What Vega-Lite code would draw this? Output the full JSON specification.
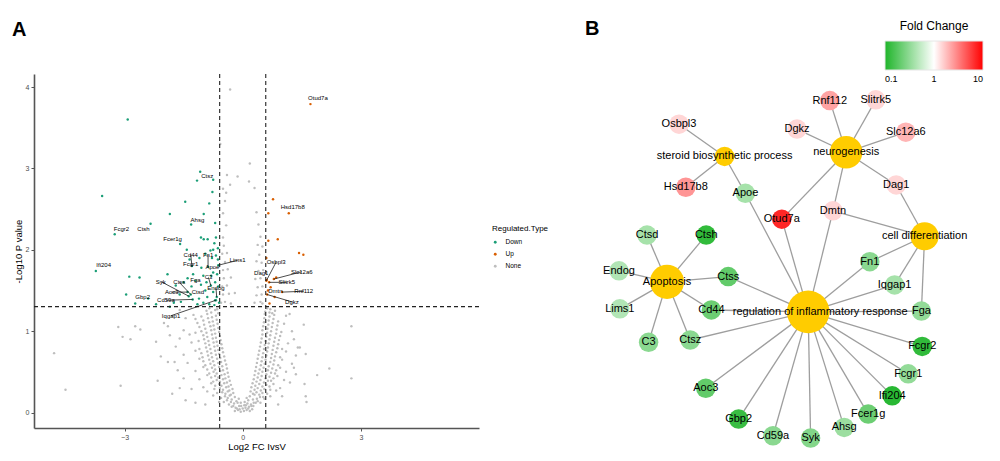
{
  "$schema": "https://vega.github.io/schema/vega-lite/v6.json",
  "padding": {"left": 12, "top": 19, "right": 5, "bottom": 5},
  "config": {"view": {"stroke": null}, "font": "Liberation Sans", "axis": {"grid": false}},
  "spacing": 36,
  "resolve": {"scale": {"color": "independent", "size": "independent", "x": "independent", "y": "independent"}},
  "datasets": {
    "v": [
      {"lfc":-0.2,"lp":0.02,"type":"None"},{"lfc":-0.12,"lp":0.03,"type":"None"},{"lfc":-0.05,"lp":0.01,"type":"None"},{"lfc":0.03,"lp":0.02,"type":"None"},{"lfc":0.1,"lp":0.03,"type":"None"},{"lfc":0.18,"lp":0.02,"type":"None"},{"lfc":0.24,"lp":0.04,"type":"None"},
      {"lfc":-0.15,"lp":0.05,"type":"None"},{"lfc":-0.08,"lp":0.04,"type":"None"},{"lfc":0.0,"lp":0.05,"type":"None"},{"lfc":0.07,"lp":0.06,"type":"None"},{"lfc":0.14,"lp":0.05,"type":"None"},
      {"lfc":-0.28,"lp":0.07,"type":"None"},{"lfc":-0.18,"lp":0.06,"type":"None"},{"lfc":-0.09,"lp":0.08,"type":"None"},{"lfc":0.08,"lp":0.09,"type":"None"},{"lfc":0.16,"lp":0.07,"type":"None"},{"lfc":0.27,"lp":0.08,"type":"None"},
      {"lfc":-0.35,"lp":0.1,"type":"None"},{"lfc":-0.22,"lp":0.11,"type":"None"},{"lfc":-0.13,"lp":0.12,"type":"None"},{"lfc":0.12,"lp":0.11,"type":"None"},{"lfc":0.21,"lp":0.1,"type":"None"},{"lfc":0.33,"lp":0.12,"type":"None"},
      {"lfc":-0.4,"lp":0.15,"type":"None"},{"lfc":-0.28,"lp":0.16,"type":"None"},{"lfc":-0.16,"lp":0.14,"type":"None"},{"lfc":0.14,"lp":0.15,"type":"None"},{"lfc":0.26,"lp":0.16,"type":"None"},{"lfc":0.38,"lp":0.14,"type":"None"},{"lfc":-0.6,"lp":0.13,"type":"None"},{"lfc":0.55,"lp":0.17,"type":"None"},
      {"lfc":-0.45,"lp":0.2,"type":"None"},{"lfc":-0.33,"lp":0.21,"type":"None"},{"lfc":-0.2,"lp":0.19,"type":"None"},{"lfc":0.18,"lp":0.2,"type":"None"},{"lfc":0.3,"lp":0.22,"type":"None"},{"lfc":0.44,"lp":0.19,"type":"None"},{"lfc":-0.75,"lp":0.21,"type":"None"},{"lfc":0.7,"lp":0.2,"type":"None"},
      {"lfc":-0.52,"lp":0.25,"type":"None"},{"lfc":-0.38,"lp":0.26,"type":"None"},{"lfc":-0.24,"lp":0.24,"type":"None"},{"lfc":0.2,"lp":0.26,"type":"None"},{"lfc":0.35,"lp":0.25,"type":"None"},{"lfc":0.5,"lp":0.24,"type":"None"},{"lfc":-0.9,"lp":0.26,"type":"None"},{"lfc":0.85,"lp":0.27,"type":"None"},
      {"lfc":-0.58,"lp":0.3,"type":"None"},{"lfc":-0.42,"lp":0.31,"type":"None"},{"lfc":-0.26,"lp":0.29,"type":"None"},{"lfc":0.22,"lp":0.31,"type":"None"},{"lfc":0.38,"lp":0.3,"type":"None"},{"lfc":0.55,"lp":0.29,"type":"None"},{"lfc":-1.0,"lp":0.31,"type":"None"},{"lfc":0.95,"lp":0.3,"type":"None"},{"lfc":-1.3,"lp":0.29,"type":"None"},
      {"lfc":-0.6,"lp":0.35,"type":"None"},{"lfc":-0.47,"lp":0.36,"type":"None"},{"lfc":-0.3,"lp":0.34,"type":"None"},{"lfc":0.25,"lp":0.36,"type":"None"},{"lfc":0.42,"lp":0.35,"type":"None"},{"lfc":0.6,"lp":0.34,"type":"None"},{"lfc":-0.8,"lp":0.36,"type":"None"},{"lfc":0.78,"lp":0.35,"type":"None"},{"lfc":1.2,"lp":0.37,"type":"None"},
      {"lfc":-0.66,"lp":0.4,"type":"None"},{"lfc":-0.5,"lp":0.41,"type":"None"},{"lfc":-0.33,"lp":0.39,"type":"None"},{"lfc":0.28,"lp":0.41,"type":"None"},{"lfc":0.45,"lp":0.4,"type":"None"},{"lfc":0.64,"lp":0.39,"type":"None"},{"lfc":-1.1,"lp":0.41,"type":"None"},{"lfc":1.05,"lp":0.4,"type":"None"},{"lfc":-1.5,"lp":0.42,"type":"None"},
      {"lfc":-0.7,"lp":0.45,"type":"None"},{"lfc":-0.54,"lp":0.46,"type":"None"},{"lfc":-0.36,"lp":0.44,"type":"None"},{"lfc":0.3,"lp":0.46,"type":"None"},{"lfc":0.48,"lp":0.45,"type":"None"},{"lfc":0.68,"lp":0.44,"type":"None"},{"lfc":-0.9,"lp":0.46,"type":"None"},{"lfc":0.88,"lp":0.45,"type":"None"},{"lfc":1.35,"lp":0.47,"type":"None"},
      {"lfc":-0.74,"lp":0.5,"type":"None"},{"lfc":-0.57,"lp":0.51,"type":"None"},{"lfc":-0.38,"lp":0.49,"type":"None"},{"lfc":0.32,"lp":0.51,"type":"None"},{"lfc":0.5,"lp":0.5,"type":"None"},{"lfc":0.72,"lp":0.49,"type":"None"},{"lfc":-1.2,"lp":0.51,"type":"None"},{"lfc":1.1,"lp":0.5,"type":"None"},{"lfc":-1.65,"lp":0.52,"type":"None"},
      {"lfc":-0.78,"lp":0.55,"type":"None"},{"lfc":-0.6,"lp":0.56,"type":"None"},{"lfc":-0.4,"lp":0.54,"type":"None"},{"lfc":0.34,"lp":0.56,"type":"None"},{"lfc":0.53,"lp":0.55,"type":"None"},{"lfc":0.75,"lp":0.54,"type":"None"},{"lfc":-1.0,"lp":0.56,"type":"None"},{"lfc":0.95,"lp":0.55,"type":"None"},
      {"lfc":-0.82,"lp":0.6,"type":"None"},{"lfc":-0.62,"lp":0.61,"type":"None"},{"lfc":-0.42,"lp":0.59,"type":"None"},{"lfc":0.36,"lp":0.61,"type":"None"},{"lfc":0.56,"lp":0.6,"type":"None"},{"lfc":0.78,"lp":0.59,"type":"None"},{"lfc":-1.4,"lp":0.61,"type":"None"},{"lfc":1.25,"lp":0.6,"type":"None"},{"lfc":-1.9,"lp":0.62,"type":"None"},
      {"lfc":-0.85,"lp":0.65,"type":"None"},{"lfc":-0.65,"lp":0.66,"type":"None"},{"lfc":-0.45,"lp":0.64,"type":"None"},{"lfc":0.38,"lp":0.66,"type":"None"},{"lfc":0.58,"lp":0.65,"type":"None"},{"lfc":0.8,"lp":0.64,"type":"None"},{"lfc":-1.1,"lp":0.66,"type":"None"},{"lfc":1.0,"lp":0.65,"type":"None"},
      {"lfc":-0.88,"lp":0.7,"type":"None"},{"lfc":-0.68,"lp":0.71,"type":"None"},{"lfc":-0.47,"lp":0.69,"type":"None"},{"lfc":0.4,"lp":0.71,"type":"None"},{"lfc":0.6,"lp":0.7,"type":"None"},{"lfc":0.82,"lp":0.69,"type":"None"},{"lfc":-1.5,"lp":0.71,"type":"None"},{"lfc":1.35,"lp":0.7,"type":"None"},{"lfc":1.6,"lp":0.72,"type":"None"},
      {"lfc":-0.9,"lp":0.75,"type":"None"},{"lfc":-0.7,"lp":0.76,"type":"None"},{"lfc":-0.5,"lp":0.74,"type":"None"},{"lfc":0.42,"lp":0.76,"type":"None"},{"lfc":0.62,"lp":0.75,"type":"None"},{"lfc":0.85,"lp":0.74,"type":"None"},{"lfc":-1.2,"lp":0.76,"type":"None"},{"lfc":1.1,"lp":0.75,"type":"None"},
      {"lfc":-0.93,"lp":0.8,"type":"None"},{"lfc":-0.72,"lp":0.81,"type":"None"},{"lfc":-0.52,"lp":0.79,"type":"None"},{"lfc":0.44,"lp":0.81,"type":"None"},{"lfc":0.64,"lp":0.8,"type":"None"},{"lfc":0.88,"lp":0.79,"type":"None"},{"lfc":-1.7,"lp":0.81,"type":"None"},{"lfc":1.4,"lp":0.8,"type":"None"},
      {"lfc":-0.95,"lp":0.85,"type":"None"},{"lfc":-0.74,"lp":0.86,"type":"None"},{"lfc":-0.54,"lp":0.84,"type":"None"},{"lfc":0.46,"lp":0.86,"type":"None"},{"lfc":0.66,"lp":0.85,"type":"None"},{"lfc":0.9,"lp":0.84,"type":"None"},{"lfc":-1.3,"lp":0.86,"type":"None"},{"lfc":1.15,"lp":0.85,"type":"None"},
      {"lfc":-0.98,"lp":0.9,"type":"None"},{"lfc":-0.76,"lp":0.91,"type":"None"},{"lfc":-0.56,"lp":0.89,"type":"None"},{"lfc":0.48,"lp":0.91,"type":"None"},{"lfc":0.68,"lp":0.9,"type":"None"},{"lfc":0.92,"lp":0.89,"type":"None"},{"lfc":-1.6,"lp":0.91,"type":"None"},{"lfc":1.3,"lp":0.9,"type":"None"},
      {"lfc":-1.0,"lp":0.95,"type":"None"},{"lfc":-0.78,"lp":0.96,"type":"None"},{"lfc":-0.58,"lp":0.94,"type":"None"},{"lfc":0.5,"lp":0.96,"type":"None"},{"lfc":0.7,"lp":0.95,"type":"None"},{"lfc":0.95,"lp":0.94,"type":"None"},{"lfc":-1.35,"lp":0.96,"type":"None"},
      {"lfc":-1.05,"lp":1.0,"type":"None"},{"lfc":-0.8,"lp":1.01,"type":"None"},{"lfc":-0.6,"lp":0.99,"type":"None"},{"lfc":0.5,"lp":1.01,"type":"None"},{"lfc":0.72,"lp":1.0,"type":"None"},{"lfc":0.98,"lp":0.99,"type":"None"},{"lfc":-1.5,"lp":1.01,"type":"None"},{"lfc":1.25,"lp":1.0,"type":"None"},
      {"lfc":-1.1,"lp":1.05,"type":"None"},{"lfc":-0.82,"lp":1.06,"type":"None"},{"lfc":-0.62,"lp":1.04,"type":"None"},{"lfc":0.52,"lp":1.06,"type":"None"},{"lfc":0.74,"lp":1.05,"type":"None"},{"lfc":-1.9,"lp":1.06,"type":"None"},
      {"lfc":-1.15,"lp":1.1,"type":"None"},{"lfc":-0.85,"lp":1.11,"type":"None"},{"lfc":-0.64,"lp":1.09,"type":"None"},{"lfc":0.54,"lp":1.11,"type":"None"},{"lfc":0.76,"lp":1.1,"type":"None"},{"lfc":1.05,"lp":1.09,"type":"None"},
      {"lfc":-1.2,"lp":1.15,"type":"None"},{"lfc":-0.88,"lp":1.16,"type":"None"},{"lfc":-0.66,"lp":1.14,"type":"None"},{"lfc":0.55,"lp":1.16,"type":"None"},{"lfc":0.78,"lp":1.15,"type":"None"},{"lfc":-1.45,"lp":1.16,"type":"None"},
      {"lfc":-1.25,"lp":1.2,"type":"None"},{"lfc":-0.9,"lp":1.21,"type":"None"},{"lfc":-0.68,"lp":1.19,"type":"None"},{"lfc":0.56,"lp":1.21,"type":"None"},{"lfc":0.8,"lp":1.2,"type":"None"},{"lfc":1.1,"lp":1.19,"type":"None"},
      {"lfc":-0.92,"lp":1.25,"type":"None"},{"lfc":-0.7,"lp":1.26,"type":"None"},{"lfc":0.57,"lp":1.24,"type":"None"},{"lfc":0.82,"lp":1.25,"type":"None"},{"lfc":-1.6,"lp":1.26,"type":"None"},
      {"lfc":-0.24,"lp":0.08,"type":"None"},{"lfc":-0.04,"lp":0.08,"type":"None"},{"lfc":0.04,"lp":0.09,"type":"None"},{"lfc":0.22,"lp":0.08,"type":"None"},
      {"lfc":-0.3,"lp":0.13,"type":"None"},{"lfc":-0.05,"lp":0.12,"type":"None"},{"lfc":0.05,"lp":0.13,"type":"None"},{"lfc":0.28,"lp":0.12,"type":"None"},{"lfc":-0.48,"lp":0.13,"type":"None"},{"lfc":0.45,"lp":0.12,"type":"None"},
      {"lfc":-0.38,"lp":0.18,"type":"None"},{"lfc":-0.1,"lp":0.17,"type":"None"},{"lfc":0.1,"lp":0.18,"type":"None"},{"lfc":0.36,"lp":0.17,"type":"None"},{"lfc":-0.55,"lp":0.18,"type":"None"},{"lfc":0.52,"lp":0.19,"type":"None"},
      {"lfc":-0.44,"lp":0.23,"type":"None"},{"lfc":-0.3,"lp":0.22,"type":"None"},{"lfc":0.26,"lp":0.23,"type":"None"},{"lfc":0.42,"lp":0.22,"type":"None"},{"lfc":-0.65,"lp":0.24,"type":"None"},{"lfc":0.62,"lp":0.23,"type":"None"},
      {"lfc":-0.5,"lp":0.28,"type":"None"},{"lfc":-0.34,"lp":0.27,"type":"None"},{"lfc":0.3,"lp":0.28,"type":"None"},{"lfc":0.46,"lp":0.27,"type":"None"},{"lfc":-0.72,"lp":0.29,"type":"None"},{"lfc":0.7,"lp":0.28,"type":"None"},
      {"lfc":-0.54,"lp":0.33,"type":"None"},{"lfc":-0.36,"lp":0.32,"type":"None"},{"lfc":0.32,"lp":0.33,"type":"None"},{"lfc":0.5,"lp":0.32,"type":"None"},{"lfc":-0.7,"lp":0.33,"type":"None"},{"lfc":0.68,"lp":0.32,"type":"None"},
      {"lfc":-0.58,"lp":0.38,"type":"None"},{"lfc":-0.4,"lp":0.37,"type":"None"},{"lfc":0.35,"lp":0.38,"type":"None"},{"lfc":0.54,"lp":0.37,"type":"None"},{"lfc":-0.75,"lp":0.38,"type":"None"},{"lfc":0.72,"lp":0.39,"type":"None"},
      {"lfc":-0.62,"lp":0.43,"type":"None"},{"lfc":-0.44,"lp":0.42,"type":"None"},{"lfc":0.38,"lp":0.43,"type":"None"},{"lfc":0.58,"lp":0.42,"type":"None"},{"lfc":-0.8,"lp":0.43,"type":"None"},{"lfc":0.78,"lp":0.42,"type":"None"},
      {"lfc":-0.66,"lp":0.48,"type":"None"},{"lfc":-0.46,"lp":0.47,"type":"None"},{"lfc":0.4,"lp":0.48,"type":"None"},{"lfc":0.6,"lp":0.47,"type":"None"},{"lfc":-0.85,"lp":0.48,"type":"None"},{"lfc":0.82,"lp":0.48,"type":"None"},
      {"lfc":-0.7,"lp":0.53,"type":"None"},{"lfc":-0.5,"lp":0.52,"type":"None"},{"lfc":0.43,"lp":0.53,"type":"None"},{"lfc":0.64,"lp":0.52,"type":"None"},{"lfc":-0.9,"lp":0.53,"type":"None"},{"lfc":0.85,"lp":0.52,"type":"None"},
      {"lfc":-0.72,"lp":0.58,"type":"None"},{"lfc":-0.52,"lp":0.57,"type":"None"},{"lfc":0.46,"lp":0.58,"type":"None"},{"lfc":0.66,"lp":0.57,"type":"None"},{"lfc":-0.95,"lp":0.58,"type":"None"},{"lfc":0.9,"lp":0.58,"type":"None"},
      {"lfc":-0.75,"lp":0.63,"type":"None"},{"lfc":-0.55,"lp":0.62,"type":"None"},{"lfc":0.48,"lp":0.63,"type":"None"},{"lfc":0.7,"lp":0.62,"type":"None"},{"lfc":-1.0,"lp":0.63,"type":"None"},
      {"lfc":-0.78,"lp":0.68,"type":"None"},{"lfc":-0.57,"lp":0.67,"type":"None"},{"lfc":0.5,"lp":0.68,"type":"None"},{"lfc":0.72,"lp":0.67,"type":"None"},{"lfc":-1.02,"lp":0.68,"type":"None"},{"lfc":0.95,"lp":0.68,"type":"None"},
      {"lfc":-0.8,"lp":0.73,"type":"None"},{"lfc":-0.6,"lp":0.72,"type":"None"},{"lfc":0.52,"lp":0.73,"type":"None"},{"lfc":0.74,"lp":0.72,"type":"None"},{"lfc":-1.05,"lp":0.73,"type":"None"},
      {"lfc":-0.82,"lp":0.78,"type":"None"},{"lfc":-0.62,"lp":0.77,"type":"None"},{"lfc":0.54,"lp":0.78,"type":"None"},{"lfc":0.76,"lp":0.77,"type":"None"},{"lfc":-1.1,"lp":0.78,"type":"None"},{"lfc":1.0,"lp":0.78,"type":"None"},
      {"lfc":-0.85,"lp":0.83,"type":"None"},{"lfc":-0.64,"lp":0.82,"type":"None"},{"lfc":0.56,"lp":0.83,"type":"None"},{"lfc":0.78,"lp":0.82,"type":"None"},
      {"lfc":-0.87,"lp":0.88,"type":"None"},{"lfc":-0.66,"lp":0.87,"type":"None"},{"lfc":0.58,"lp":0.88,"type":"None"},{"lfc":0.8,"lp":0.87,"type":"None"},{"lfc":-1.12,"lp":0.88,"type":"None"},
      {"lfc":-0.9,"lp":0.93,"type":"None"},{"lfc":-0.68,"lp":0.92,"type":"None"},{"lfc":0.6,"lp":0.93,"type":"None"},{"lfc":0.82,"lp":0.92,"type":"None"},
      {"lfc":-0.92,"lp":0.98,"type":"None"},{"lfc":-0.7,"lp":0.97,"type":"None"},{"lfc":0.62,"lp":0.98,"type":"None"},{"lfc":0.85,"lp":0.97,"type":"None"},{"lfc":-1.2,"lp":0.98,"type":"None"},
      {"lfc":-0.95,"lp":1.03,"type":"None"},{"lfc":-0.72,"lp":1.02,"type":"None"},{"lfc":0.63,"lp":1.03,"type":"None"},{"lfc":0.86,"lp":1.02,"type":"None"},
      {"lfc":-0.98,"lp":1.08,"type":"None"},{"lfc":-0.74,"lp":1.07,"type":"None"},{"lfc":0.65,"lp":1.08,"type":"None"},{"lfc":0.88,"lp":1.07,"type":"None"},
      {"lfc":-1.0,"lp":1.13,"type":"None"},{"lfc":-0.76,"lp":1.12,"type":"None"},{"lfc":0.66,"lp":1.13,"type":"None"},{"lfc":0.9,"lp":1.12,"type":"None"},
      {"lfc":-1.05,"lp":1.18,"type":"None"},{"lfc":-0.78,"lp":1.17,"type":"None"},{"lfc":0.68,"lp":1.18,"type":"None"},
      {"lfc":-0.8,"lp":1.23,"type":"None"},{"lfc":-0.62,"lp":1.22,"type":"None"},{"lfc":0.68,"lp":1.23,"type":"None"},{"lfc":0.75,"lp":1.22,"type":"None"},
      {"lfc":-0.85,"lp":1.28,"type":"None"},{"lfc":-0.65,"lp":1.27,"type":"None"},{"lfc":0.62,"lp":1.28,"type":"None"},{"lfc":0.7,"lp":1.27,"type":"None"},
      {"lfc":-0.55,"lp":1.35,"type":"None"},{"lfc":-0.45,"lp":1.36,"type":"None"},{"lfc":-0.3,"lp":1.34,"type":"None"},{"lfc":0.3,"lp":1.35,"type":"None"},{"lfc":0.45,"lp":1.36,"type":"None"},{"lfc":0.5,"lp":1.34,"type":"None"},
      {"lfc":-0.5,"lp":1.45,"type":"None"},{"lfc":-0.35,"lp":1.46,"type":"None"},{"lfc":0.35,"lp":1.44,"type":"None"},{"lfc":0.48,"lp":1.45,"type":"None"},{"lfc":-0.2,"lp":1.47,"type":"None"},
      {"lfc":-0.52,"lp":1.55,"type":"None"},{"lfc":-0.4,"lp":1.56,"type":"None"},{"lfc":0.38,"lp":1.54,"type":"None"},{"lfc":0.5,"lp":1.55,"type":"None"},
      {"lfc":-0.48,"lp":1.65,"type":"None"},{"lfc":-0.3,"lp":1.66,"type":"None"},{"lfc":0.32,"lp":1.64,"type":"None"},{"lfc":0.45,"lp":1.65,"type":"None"},
      {"lfc":-0.5,"lp":1.75,"type":"None"},{"lfc":-0.38,"lp":1.76,"type":"None"},{"lfc":0.4,"lp":1.74,"type":"None"},{"lfc":0.52,"lp":1.75,"type":"None"},
      {"lfc":-0.45,"lp":1.85,"type":"None"},{"lfc":0.35,"lp":1.86,"type":"None"},{"lfc":0.48,"lp":1.84,"type":"None"},
      {"lfc":-0.52,"lp":1.95,"type":"None"},{"lfc":-0.4,"lp":1.96,"type":"None"},{"lfc":0.42,"lp":1.94,"type":"None"},
      {"lfc":-0.48,"lp":2.05,"type":"None"},{"lfc":0.38,"lp":2.06,"type":"None"},{"lfc":0.5,"lp":2.04,"type":"None"},
      {"lfc":-0.5,"lp":2.15,"type":"None"},{"lfc":0.45,"lp":2.16,"type":"None"},
      {"lfc":-0.42,"lp":2.3,"type":"None"},{"lfc":0.4,"lp":2.31,"type":"None"},
      {"lfc":-0.5,"lp":2.45,"type":"None"},{"lfc":0.35,"lp":2.46,"type":"None"},
      {"lfc":-0.45,"lp":2.6,"type":"None"},{"lfc":-0.42,"lp":2.7,"type":"None"},{"lfc":-0.5,"lp":2.75,"type":"None"},{"lfc":0.3,"lp":2.76,"type":"None"},{"lfc":-0.32,"lp":2.8,"type":"None"},{"lfc":0.16,"lp":2.84,"type":"None"},{"lfc":-0.13,"lp":2.9,"type":"None"},{"lfc":-0.4,"lp":2.92,"type":"None"},{"lfc":0.18,"lp":3.06,"type":"None"},{"lfc":-0.57,"lp":3.3,"type":"None"},{"lfc":-0.32,"lp":3.97,"type":"None"},
      {"lfc":-4.79,"lp":0.73,"type":"None"},{"lfc":-4.5,"lp":0.28,"type":"None"},{"lfc":-3.16,"lp":1.05,"type":"None"},{"lfc":-3.05,"lp":0.93,"type":"None"},{"lfc":-3.1,"lp":0.33,"type":"None"},{"lfc":-2.85,"lp":0.9,"type":"None"},{"lfc":-2.73,"lp":1.06,"type":"None"},{"lfc":-2.6,"lp":1.02,"type":"None"},{"lfc":2.76,"lp":1.06,"type":"None"},{"lfc":2.76,"lp":0.42,"type":"None"},{"lfc":2.2,"lp":0.54,"type":"None"},{"lfc":1.89,"lp":0.46,"type":"None"},{"lfc":1.55,"lp":1.08,"type":"None"},{"lfc":1.57,"lp":0.35,"type":"None"},{"lfc":1.6,"lp":0.2,"type":"None"},{"lfc":1.62,"lp":0.13,"type":"None"},{"lfc":1.19,"lp":1.21,"type":"None"},{"lfc":-2.16,"lp":0.39,"type":"None"},{"lfc":-1.73,"lp":0.62,"type":"None"},{"lfc":-1.79,"lp":0.23,"type":"None"},{"lfc":-2.2,"lp":0.87,"type":"None"},{"lfc":-2.08,"lp":0.69,"type":"None"},{"lfc":-2.0,"lp":1.1,"type":"None"},{"lfc":-1.85,"lp":0.95,"type":"None"},{"lfc":-1.6,"lp":0.3,"type":"None"},{"lfc":-1.45,"lp":0.15,"type":"None"},{"lfc":1.3,"lp":0.55,"type":"None"},{"lfc":1.45,"lp":0.8,"type":"None"},{"lfc":1.0,"lp":0.2,"type":"None"},{"lfc":-1.2,"lp":0.12,"type":"None"},{"lfc":0.9,"lp":0.1,"type":"None"},{"lfc":-0.95,"lp":0.1,"type":"None"},
      {"lfc":0.77,"lp":2.62,"type":"Up"},{"lfc":0.65,"lp":2.45,"type":"Up"},{"lfc":0.65,"lp":2.11,"type":"Up"},{"lfc":0.89,"lp":2.13,"type":"Up"},{"lfc":1.43,"lp":1.96,"type":"Up"},{"lfc":1.54,"lp":1.94,"type":"Up"},{"lfc":0.6,"lp":1.9,"type":"Up"},{"lfc":0.71,"lp":1.54,"type":"Up"},{"lfc":0.81,"lp":1.42,"type":"Up"},{"lfc":0.68,"lp":1.34,"type":"Up"},{"lfc":0.85,"lp":1.66,"type":"Up"},
      {"lfc":-2.92,"lp":3.6,"type":"Down"},{"lfc":-3.57,"lp":2.66,"type":"Down"},{"lfc":-1.16,"lp":2.85,"type":"Down"},{"lfc":-0.75,"lp":2.86,"type":"Down"},{"lfc":-0.77,"lp":2.71,"type":"Down"},{"lfc":-1.46,"lp":2.59,"type":"Down"},{"lfc":-0.85,"lp":2.57,"type":"Down"},{"lfc":-1.85,"lp":2.44,"type":"Down"},{"lfc":-0.99,"lp":2.44,"type":"Down"},{"lfc":-0.7,"lp":2.33,"type":"Down"},{"lfc":-1.06,"lp":2.15,"type":"Down"},{"lfc":-0.99,"lp":2.13,"type":"Down"},{"lfc":-0.89,"lp":2.13,"type":"Down"},{"lfc":-0.68,"lp":2.15,"type":"Down"},{"lfc":-0.72,"lp":2.08,"type":"Down"},{"lfc":-1.42,"lp":2.0,"type":"Down"},{"lfc":-0.82,"lp":1.99,"type":"Down"},{"lfc":-0.68,"lp":1.93,"type":"Down"},{"lfc":-2.88,"lp":1.67,"type":"Down"},{"lfc":-2.62,"lp":1.66,"type":"Down"},{"lfc":-2.96,"lp":1.45,"type":"Down"},{"lfc":-1.91,"lp":1.7,"type":"Down"},{"lfc":-1.7,"lp":1.56,"type":"Down"},{"lfc":-1.57,"lp":1.36,"type":"Down"},
      {"lfc":-1.2,"lp":1.62,"type":"Down"},{"lfc":-1.0,"lp":1.68,"type":"Down"},{"lfc":-0.95,"lp":1.5,"type":"Down"},{"lfc":-0.9,"lp":1.42,"type":"Down"},{"lfc":-0.75,"lp":1.48,"type":"Down"},{"lfc":-0.7,"lp":1.6,"type":"Down"},{"lfc":-0.65,"lp":1.7,"type":"Down"},{"lfc":-0.62,"lp":1.55,"type":"Down"},{"lfc":-1.15,"lp":1.33,"type":"Down"},{"lfc":-1.0,"lp":1.35,"type":"Down"},{"lfc":-0.85,"lp":1.33,"type":"Down"},{"lfc":-0.72,"lp":1.32,"type":"Down"},{"lfc":-1.5,"lp":1.6,"type":"Down"},{"lfc":-1.6,"lp":1.45,"type":"Down"},{"lfc":-1.75,"lp":1.35,"type":"Down"},{"lfc":-2.2,"lp":1.33,"type":"Down"},{"lfc":-2.4,"lp":1.4,"type":"Down"},{"lfc":-1.35,"lp":1.88,"type":"Down"},{"lfc":-1.1,"lp":1.9,"type":"Down"},{"lfc":-0.95,"lp":1.95,"type":"Down"},{"lfc":-0.75,"lp":2.0,"type":"Down"},{"lfc":-0.63,"lp":1.88,"type":"Down"},{"lfc":-0.63,"lp":2.02,"type":"Down"},{"lfc":-1.05,"lp":1.78,"type":"Down"},{"lfc":-0.8,"lp":1.68,"type":"Down"},{"lfc":-0.7,"lp":1.38,"type":"Down"},{"lfc":-0.92,"lp":1.6,"type":"Down"},{"lfc":-1.3,"lp":1.55,"type":"Down"},{"lfc":-1.4,"lp":1.65,"type":"Down"},{"lfc":-0.6,"lp":1.35,"type":"Down"},{"lfc":-0.78,"lp":1.9,"type":"Down"},{"lfc":-1.85,"lp":1.3,"type":"Down"},
      {"lfc":1.72,"lp":3.79,"type":"Up","gene":"Otud7a","lx":1.91,"ly":3.86,"seg":0},
      {"lfc":1.17,"lp":2.45,"type":"Up","gene":"Hsd17b8","lx":1.27,"ly":2.53,"seg":0},
      {"lfc":0.6,"lp":1.62,"type":"Up","gene":"Osbpl3","lx":0.85,"ly":1.85,"seg":1},
      {"lfc":0.61,"lp":1.63,"type":"Up","gene":"Dag1","lx":0.47,"ly":1.71,"seg":0},
      {"lfc":0.79,"lp":1.64,"type":"Up","gene":"Slc12a6","lx":1.5,"ly":1.73,"seg":1},
      {"lfc":0.67,"lp":1.6,"type":"Up","gene":"Slitrk5","lx":1.12,"ly":1.6,"seg":1},
      {"lfc":0.64,"lp":1.5,"type":"Up","gene":"Dmtn","lx":0.83,"ly":1.49,"seg":0},
      {"lfc":1.0,"lp":1.48,"type":"Up","gene":"Rnf112","lx":1.55,"ly":1.49,"seg":1},
      {"lfc":0.62,"lp":1.45,"type":"Up","gene":"Dgkz","lx":1.25,"ly":1.36,"seg":1},
      {"lfc":-1.08,"lp":2.96,"type":"Down","gene":"Ctsz","lx":-0.9,"ly":2.91,"seg":0},
      {"lfc":-3.25,"lp":2.19,"type":"Down","gene":"Fcgr2","lx":-3.08,"ly":2.25,"seg":0},
      {"lfc":-2.34,"lp":2.32,"type":"Down","gene":"Ctsh","lx":-2.52,"ly":2.25,"seg":0},
      {"lfc":-1.31,"lp":2.31,"type":"Down","gene":"Ahsg","lx":-1.15,"ly":2.37,"seg":0},
      {"lfc":-1.59,"lp":2.07,"type":"Down","gene":"Fcer1g","lx":-1.78,"ly":2.13,"seg":0},
      {"lfc":-1.29,"lp":1.8,"type":"Down","gene":"Cd44","lx":-1.32,"ly":1.94,"seg":1},
      {"lfc":-0.88,"lp":1.79,"type":"Down","gene":"Fn1","lx":-0.88,"ly":1.94,"seg":1},
      {"lfc":-1.26,"lp":1.7,"type":"Down","gene":"Fcgr1","lx":-1.32,"ly":1.82,"seg":0},
      {"lfc":-0.75,"lp":1.72,"type":"Down","gene":"Apoe","lx":-0.77,"ly":1.79,"seg":0},
      {"lfc":-0.62,"lp":1.81,"type":"Down","gene":"Lims1","lx":-0.13,"ly":1.87,"seg":1},
      {"lfc":-1.06,"lp":1.57,"type":"Down","gene":"Fga","lx":-1.2,"ly":1.63,"seg":0},
      {"lfc":-0.81,"lp":1.56,"type":"Down","gene":"C3","lx":-0.87,"ly":1.66,"seg":1},
      {"lfc":-0.66,"lp":1.42,"type":"Down","gene":"Endog","lx":-0.68,"ly":1.53,"seg":1},
      {"lfc":-1.37,"lp":1.43,"type":"Down","gene":"Syk","lx":-2.08,"ly":1.61,"seg":1},
      {"lfc":-1.32,"lp":1.45,"type":"Down","gene":"Ctss","lx":-1.61,"ly":1.6,"seg":1},
      {"lfc":-1.4,"lp":1.48,"type":"Down","gene":"Aoc3","lx":-1.8,"ly":1.48,"seg":1},
      {"lfc":-1.11,"lp":1.4,"type":"Down","gene":"Ctsd","lx":-1.14,"ly":1.48,"seg":0},
      {"lfc":-1.27,"lp":1.39,"type":"Down","gene":"Cd59a","lx":-1.95,"ly":1.38,"seg":1},
      {"lfc":-0.68,"lp":1.38,"type":"Down","gene":"Iqgap1","lx":-1.82,"ly":1.19,"seg":1},
      {"lfc":-2.73,"lp":1.34,"type":"Down","gene":"Gbp2","lx":-2.54,"ly":1.42,"seg":0},
      {"lfc":-3.73,"lp":1.74,"type":"Down","gene":"Ifi204","lx":-3.53,"ly":1.81,"seg":0}
    ],
    "nodes": [
      {"id":"steroid biosynthetic process","x":32.9,"y":78.3,"kind":"hub","deg":3},
      {"id":"neurogenesis","x":63.3,"y":79.4,"kind":"hub","deg":7},
      {"id":"cell differentiation","x":82.9,"y":57.3,"kind":"hub","deg":5},
      {"id":"Apoptosis","x":18.5,"y":45.3,"kind":"hub","deg":8},
      {"id":"regulation of inflammatory response","x":53.8,"y":37.4,"kind":"hub","deg":18},
      {"id":"Osbpl3","x":21.5,"y":86.8,"kind":"gene","fc":1.45},
      {"id":"Hsd17b8","x":23.2,"y":70.2,"kind":"gene","fc":2.6},
      {"id":"Apoe","x":38.1,"y":68.6,"kind":"gene","fc":0.4},
      {"id":"Dgkz","x":51.0,"y":85.5,"kind":"gene","fc":1.45},
      {"id":"Rnf112","x":59.2,"y":93.0,"kind":"gene","fc":2.3},
      {"id":"Slitrk5","x":70.7,"y":93.2,"kind":"gene","fc":1.45},
      {"id":"Slc12a6","x":78.2,"y":84.7,"kind":"gene","fc":1.95},
      {"id":"Dag1","x":75.8,"y":70.8,"kind":"gene","fc":1.45},
      {"id":"Dmtn","x":60.0,"y":64.0,"kind":"gene","fc":1.45},
      {"id":"Otud7a","x":47.2,"y":61.8,"kind":"gene","fc":7},
      {"id":"Ctsd","x":13.5,"y":57.6,"kind":"gene","fc":0.4},
      {"id":"Ctsh","x":28.3,"y":57.6,"kind":"gene","fc":0.12},
      {"id":"Endog","x":6.5,"y":48.2,"kind":"gene","fc":0.45},
      {"id":"Ctss","x":33.8,"y":46.7,"kind":"gene","fc":0.2},
      {"id":"Fn1","x":69.2,"y":50.6,"kind":"gene","fc":0.3},
      {"id":"Iqgap1","x":75.4,"y":44.5,"kind":"gene","fc":0.4},
      {"id":"Lims1","x":6.7,"y":38.2,"kind":"gene","fc":0.45},
      {"id":"Cd44","x":29.6,"y":37.9,"kind":"gene","fc":0.22},
      {"id":"Fga","x":82.1,"y":37.6,"kind":"gene","fc":0.33},
      {"id":"C3","x":13.9,"y":29.4,"kind":"gene","fc":0.3},
      {"id":"Ctsz","x":24.3,"y":30.0,"kind":"gene","fc":0.3},
      {"id":"Fcgr2","x":82.3,"y":28.3,"kind":"gene","fc":0.12},
      {"id":"Fcgr1","x":78.8,"y":21.1,"kind":"gene","fc":0.33},
      {"id":"Aoc3","x":28.2,"y":17.3,"kind":"gene","fc":0.2},
      {"id":"Ifi204","x":74.8,"y":15.3,"kind":"gene","fc":0.11},
      {"id":"Gbp2","x":36.4,"y":9.2,"kind":"gene","fc":0.13},
      {"id":"Fcer1g","x":68.8,"y":10.5,"kind":"gene","fc":0.22},
      {"id":"Cd59a","x":45.0,"y":4.8,"kind":"gene","fc":0.3},
      {"id":"Syk","x":54.4,"y":4.2,"kind":"gene","fc":0.28},
      {"id":"Ahsg","x":62.8,"y":7.0,"kind":"gene","fc":0.36}
    ],
    "edges": [
      {"s":"steroid biosynthetic process","t":"Osbpl3"},{"s":"steroid biosynthetic process","t":"Hsd17b8"},{"s":"steroid biosynthetic process","t":"Apoe"},
      {"s":"neurogenesis","t":"Dgkz"},{"s":"neurogenesis","t":"Rnf112"},{"s":"neurogenesis","t":"Slitrk5"},{"s":"neurogenesis","t":"Slc12a6"},{"s":"neurogenesis","t":"Dag1"},{"s":"neurogenesis","t":"Dmtn"},{"s":"neurogenesis","t":"Otud7a"},
      {"s":"cell differentiation","t":"Dag1"},{"s":"cell differentiation","t":"Dmtn"},{"s":"cell differentiation","t":"Fn1"},{"s":"cell differentiation","t":"Iqgap1"},{"s":"cell differentiation","t":"Fga"},
      {"s":"Apoptosis","t":"Ctsd"},{"s":"Apoptosis","t":"Ctsh"},{"s":"Apoptosis","t":"Endog"},{"s":"Apoptosis","t":"Ctss"},{"s":"Apoptosis","t":"Lims1"},{"s":"Apoptosis","t":"Cd44"},{"s":"Apoptosis","t":"C3"},{"s":"Apoptosis","t":"Ctsz"},
      {"s":"regulation of inflammatory response","t":"Apoe"},{"s":"regulation of inflammatory response","t":"Otud7a"},{"s":"regulation of inflammatory response","t":"Dmtn"},{"s":"regulation of inflammatory response","t":"Ctss"},{"s":"regulation of inflammatory response","t":"Fn1"},{"s":"regulation of inflammatory response","t":"Iqgap1"},{"s":"regulation of inflammatory response","t":"Cd44"},{"s":"regulation of inflammatory response","t":"Fga"},{"s":"regulation of inflammatory response","t":"Ctsz"},{"s":"regulation of inflammatory response","t":"Fcgr2"},{"s":"regulation of inflammatory response","t":"Fcgr1"},{"s":"regulation of inflammatory response","t":"Ifi204"},{"s":"regulation of inflammatory response","t":"Fcer1g"},{"s":"regulation of inflammatory response","t":"Ahsg"},{"s":"regulation of inflammatory response","t":"Syk"},{"s":"regulation of inflammatory response","t":"Cd59a"},{"s":"regulation of inflammatory response","t":"Gbp2"},{"s":"regulation of inflammatory response","t":"Aoc3"}
    ]
  },
  "hconcat": [
    {
      "width": 445,
      "height": 354,
      "title": {"text": "A", "anchor": "start", "frame": "bounds", "fontSize": 20, "fontWeight": "bold", "offset": 33, "dx": -1, "color": "#000"},
      "layer": [
        {
          "data": {"name": "v"},
          "mark": {"type": "circle", "size": 6, "opacity": 1},
          "encoding": {
            "x": {"field": "lfc", "type": "quantitative", "title": "Log2 FC IvsV",
              "scale": {"domain": [-5.3, 6.0], "nice": false, "zero": false},
              "axis": {"values": [-3, 0, 3], "format": "d", "domainColor": "#555", "domainWidth": 1.6, "tickColor": "#555", "tickSize": 3, "labelFontSize": 7, "labelColor": "#4d4d4d", "labelPadding": 2, "titleFontSize": 9.5, "titleFontWeight": "normal", "titleColor": "#000", "titlePadding": 1}},
            "y": {"field": "lp", "type": "quantitative", "title": "-Log10 P value",
              "scale": {"domain": [-0.19, 4.16], "nice": false, "zero": false},
              "axis": {"values": [0, 1, 2, 3, 4], "format": "d", "domainColor": "#555", "domainWidth": 1.6, "tickColor": "#555", "tickSize": 3, "labelFontSize": 7, "labelColor": "#4d4d4d", "labelPadding": 2, "titleFontSize": 9.5, "titleFontWeight": "normal", "titleColor": "#000", "titlePadding": 2}},
            "color": {"field": "type", "type": "nominal",
              "scale": {"domain": ["Down", "Up", "None"], "range": ["#1B9E77", "#D95F02", "#BEBEBE"]},
              "legend": {"title": "Regulated.Type", "orient": "none", "legendX": 458, "legendY": 151, "titleFontSize": 8, "titleFontWeight": "normal", "titleColor": "#000", "labelFontSize": 6.5, "labelColor": "#000", "symbolSize": 8, "symbolType": "circle", "rowPadding": 5, "titlePadding": 6, "labelOffset": 7}}
          }
        },
        {
          "data": {"values": [{}]},
          "mark": {"type": "rule", "strokeDash": [4, 3], "color": "#222", "strokeWidth": 1.1},
          "encoding": {"x": {"datum": -0.585, "type": "quantitative"}}
        },
        {
          "data": {"values": [{}]},
          "mark": {"type": "rule", "strokeDash": [4, 3], "color": "#222", "strokeWidth": 1.1},
          "encoding": {"x": {"datum": 0.585, "type": "quantitative"}}
        },
        {
          "data": {"values": [{}]},
          "mark": {"type": "rule", "strokeDash": [4, 3], "color": "#222", "strokeWidth": 1.1},
          "encoding": {"y": {"datum": 1.301, "type": "quantitative"}}
        },
        {
          "data": {"name": "v"},
          "transform": [{"filter": "datum.seg == 1"}],
          "mark": {"type": "rule", "color": "#000", "strokeWidth": 0.7},
          "encoding": {
            "x": {"field": "lfc", "type": "quantitative", "title": "Log2 FC IvsV"},
            "y": {"field": "lp", "type": "quantitative", "title": "-Log10 P value"},
            "x2": {"field": "lx"},
            "y2": {"field": "ly"}
          }
        },
        {
          "data": {"name": "v"},
          "transform": [{"filter": "isValid(datum.gene)"}],
          "mark": {"type": "text", "fontSize": 6, "color": "#000"},
          "encoding": {
            "x": {"field": "lx", "type": "quantitative", "title": "Log2 FC IvsV"},
            "y": {"field": "ly", "type": "quantitative", "title": "-Log10 P value"},
            "text": {"field": "gene"}
          }
        }
      ]
    },
    {
      "width": 400,
      "height": 380,
      "title": {"text": "B", "anchor": "start", "frame": "group", "fontSize": 20, "fontWeight": "bold", "offset": -18, "dx": -8, "color": "#000"},
      "layer": [
        {
          "data": {"name": "edges"},
          "transform": [
            {"lookup": "s", "from": {"data": {"name": "nodes"}, "key": "id", "fields": ["x", "y"]}, "as": ["sx", "sy"]},
            {"lookup": "t", "from": {"data": {"name": "nodes"}, "key": "id", "fields": ["x", "y"]}, "as": ["tx", "ty"]}
          ],
          "mark": {"type": "rule", "color": "#9e9e9e", "strokeWidth": 1.3},
          "encoding": {
            "x": {"field": "sx", "type": "quantitative", "scale": {"domain": [0, 100], "nice": false, "zero": false}, "axis": null},
            "y": {"field": "sy", "type": "quantitative", "scale": {"domain": [0, 100], "nice": false, "zero": false}, "axis": null},
            "x2": {"field": "tx"},
            "y2": {"field": "ty"}
          }
        },
        {
          "data": {"name": "nodes"},
          "transform": [{"filter": "datum.kind == 'gene'"}],
          "mark": {"type": "circle", "size": 380, "opacity": 1},
          "encoding": {
            "x": {"field": "x", "type": "quantitative", "axis": null},
            "y": {"field": "y", "type": "quantitative", "axis": null},
            "color": {"field": "fc", "type": "quantitative",
              "scale": {"type": "log", "domain": [0.1, 1, 10], "range": ["#1fb52a", "#ffffff", "#ff0000"], "interpolate": "rgb"},
              "legend": {"title": "Fold Change", "orient": "none", "direction": "horizontal", "legendX": 292, "legendY": -53, "gradientLength": 98, "gradientThickness": 29, "titleAnchor": "middle", "titleFontSize": 12, "titleFontWeight": "normal", "titleColor": "#000", "titlePadding": 8, "labelFontSize": 9, "labelColor": "#000", "labelOffset": 5, "values": [0.1, 1, 10], "format": "~g", "gradientStrokeColor": "#e6e6e6", "gradientStrokeWidth": 1}}
          }
        },
        {
          "data": {"name": "nodes"},
          "transform": [{"filter": "datum.kind == 'hub'"}],
          "mark": {"type": "circle", "opacity": 1, "color": "#FFCC00"},
          "encoding": {
            "x": {"field": "x", "type": "quantitative", "axis": null},
            "y": {"field": "y", "type": "quantitative", "axis": null},
            "size": {"field": "deg", "type": "quantitative", "scale": {"type": "log", "domain": [3, 18], "range": [380, 1810]}, "legend": null}
          }
        },
        {
          "data": {"name": "nodes"},
          "transform": [{"filter": "datum.id != 'regulation of inflammatory response'"}],
          "mark": {"type": "text", "fontSize": 11, "color": "#000"},
          "encoding": {
            "x": {"field": "x", "type": "quantitative", "axis": null},
            "y": {"field": "y", "type": "quantitative", "axis": null},
            "text": {"field": "id"}
          }
        },
        {
          "data": {"name": "nodes"},
          "transform": [{"filter": "datum.id == 'regulation of inflammatory response'"}],
          "mark": {"type": "text", "fontSize": 11, "color": "#000", "dx": 12},
          "encoding": {
            "x": {"field": "x", "type": "quantitative", "axis": null},
            "y": {"field": "y", "type": "quantitative", "axis": null},
            "text": {"field": "id"}
          }
        }
      ]
    }
  ]
}
